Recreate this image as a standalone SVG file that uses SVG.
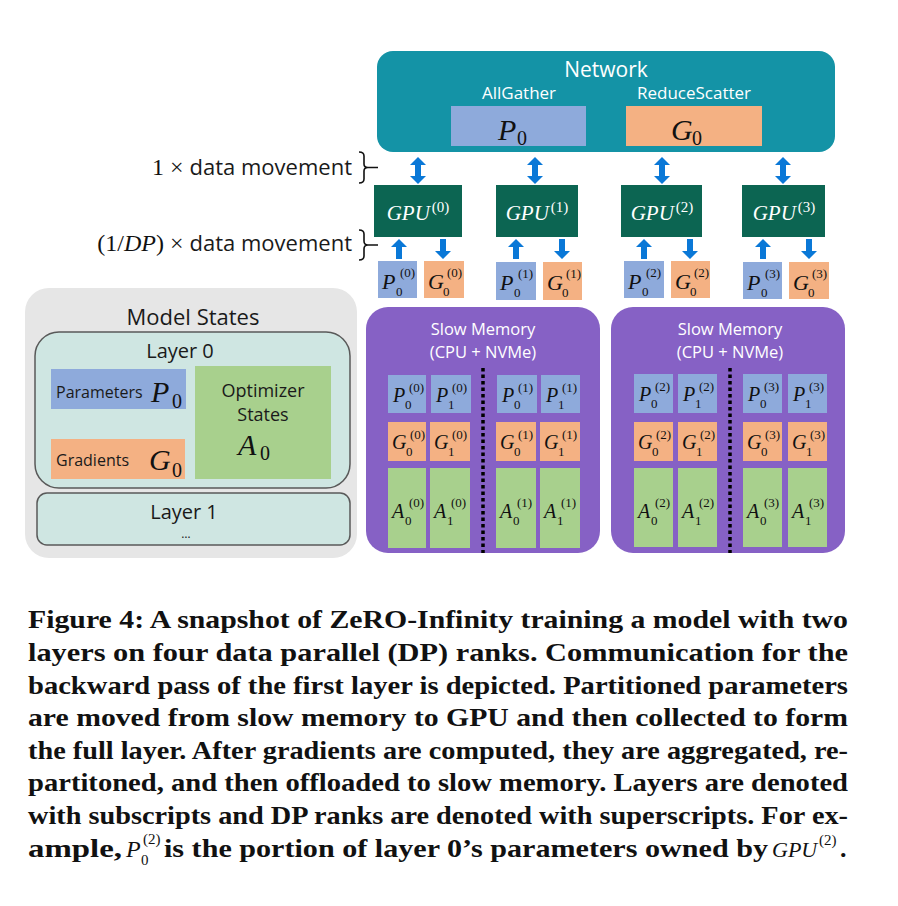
<svg xmlns="http://www.w3.org/2000/svg" xmlns:xlink="http://www.w3.org/1999/xlink" width="898" height="906" viewBox="0 0 898 906">
<style>
.sans{font-family:"Open Sans","Noto Sans","DejaVu Sans",sans-serif;fill:#1a1a1a}
.wt{fill:#ffffff}
.mi{font-family:"Liberation Serif","DejaVu Serif",serif;font-style:italic;fill:#111}
.mu{font-family:"Liberation Serif","DejaVu Serif",serif;fill:#111}
.cap{font-family:"Liberation Serif","DejaVu Serif",serif;font-weight:bold;font-size:26px;fill:#111}
.pb{fill:#8eaadb}
.gb{fill:#f4b183}
.ab{fill:#a8d08d}
.arr{fill:#0a78d7}
.brace{fill:none;stroke:#111;stroke-width:1.6}
.dots{stroke:#000;stroke-width:3.5;stroke-dasharray:3.5 3}
.cl{font-size:20px}
.cs{font-size:13px}
.gpu{font-family:"Liberation Serif","DejaVu Serif",serif;font-style:italic;font-size:21px;fill:#fff}
</style>
<defs>
<path id="dbl" d="M0,0 L8,8 L3,8 L3,19 L8,19 L0,27 L-8,19 L-3,19 L-3,8 L-8,8 Z"/>
<path id="up" d="M0,0 L8,8 L3,8 L3,20 L-3,20 L-3,8 L-8,8 Z"/>
<path id="dn" d="M0,20 L8,12 L3,12 L3,0 L-3,0 L-3,12 L-8,12 Z"/>
</defs>
<rect width="898" height="906" fill="#ffffff"/>

<g id="network">
<rect x="377" y="51" width="458" height="101" rx="16" fill="#1493a6"/>
<text class="sans wt" x="606" y="77" font-size="21" text-anchor="middle">Network</text>
<text class="sans wt" x="519" y="99" font-size="17" text-anchor="middle">AllGather</text>
<text class="sans wt" x="694" y="99" font-size="17" text-anchor="middle">ReduceScatter</text>
<rect class="pb" x="451" y="106" width="135" height="40"/>
<rect class="gb" x="626" y="106" width="136" height="40"/>
<text class="mi" x="498" y="140" font-size="30">P</text>
<text class="mu" x="517" y="145" font-size="20">0</text>
<text class="mi" x="671" y="140" font-size="30">G</text>
<text class="mu" x="692" y="145" font-size="20">0</text>
</g>

<g id="labels">
<text class="sans" x="352" y="175" font-size="22" text-anchor="end"><tspan class="mu" font-size="24">1 × </tspan>data movement</text>
<path class="brace" d="M359,152 Q364,152 364,156 L364,164 Q364,167.5 368,167.5 Q364,167.5 364,171 L364,179 Q364,183 359,183 M368,167.5 H378"/>
<text class="sans" x="352" y="251" font-size="22" text-anchor="end"><tspan class="mu" font-size="24">(1/</tspan><tspan class="mi" font-size="24">DP</tspan><tspan class="mu" font-size="24">) × </tspan>data movement</text>
<path class="brace" d="M359,230 Q364,230 364,234 L364,241 Q364,245 368,245 Q364,245 364,249 L364,256 Q364,260 359,260 M368,245 H378"/>
</g>

<g id="gpu0">
<rect x="374" y="185" width="88" height="52" fill="#0c6552"/>
<text class="gpu" x="418" y="220" text-anchor="middle">GPU<tspan dx="2" dy="-8" font-size="15" font-style="normal">(0)</tspan></text>
</g>
<g id="gpu1">
<rect x="496" y="185" width="82" height="52" fill="#0c6552"/>
<text class="gpu" x="537" y="220" text-anchor="middle">GPU<tspan dx="2" dy="-8" font-size="15" font-style="normal">(1)</tspan></text>
</g>
<g id="gpu2">
<rect x="621" y="185" width="81" height="52" fill="#0c6552"/>
<text class="gpu" x="662" y="220" text-anchor="middle">GPU<tspan dx="2" dy="-8" font-size="15" font-style="normal">(2)</tspan></text>
</g>
<g id="gpu3">
<rect x="742" y="185" width="83" height="52" fill="#0c6552"/>
<text class="gpu" x="784" y="220" text-anchor="middle">GPU<tspan dx="2" dy="-8" font-size="15" font-style="normal">(3)</tspan></text>
</g>

<g id="connectors">
<use xlink:href="#dbl" href="#dbl" class="arr" x="418" y="157"/>
<use xlink:href="#dbl" href="#dbl" class="arr" x="535" y="157"/>
<use xlink:href="#dbl" href="#dbl" class="arr" x="662" y="157"/>
<use xlink:href="#dbl" href="#dbl" class="arr" x="783" y="157"/>
<use xlink:href="#up" href="#up" class="arr" x="399" y="239"/>
<use xlink:href="#dn" href="#dn" class="arr" x="443" y="239"/>
<use xlink:href="#up" href="#up" class="arr" x="516" y="239"/>
<use xlink:href="#dn" href="#dn" class="arr" x="562" y="239"/>
<use xlink:href="#up" href="#up" class="arr" x="644" y="239"/>
<use xlink:href="#dn" href="#dn" class="arr" x="690" y="239"/>
<use xlink:href="#up" href="#up" class="arr" x="763" y="239"/>
<use xlink:href="#dn" href="#dn" class="arr" x="809" y="239"/>
</g>

<g id="gpu-shards">
<g transform="translate(378,261)"><rect class="pb" width="39" height="37"/><text class="mi" x="4" y="28" font-size="22">P</text><text class="mu cs" x="18" y="35">0</text><text class="mu cs" x="22" y="16">(0)</text></g>
<g transform="translate(424,261)"><rect class="gb" width="40" height="37"/><text class="mi" x="4" y="28" font-size="22">G</text><text class="mu cs" x="19" y="35">0</text><text class="mu cs" x="23" y="16">(0)</text></g>
<g transform="translate(496,262)"><rect class="pb" width="40" height="38"/><text class="mi" x="4" y="28" font-size="22">P</text><text class="mu cs" x="18" y="35">0</text><text class="mu cs" x="22" y="16">(1)</text></g>
<g transform="translate(543,262)"><rect class="gb" width="39" height="38"/><text class="mi" x="4" y="28" font-size="22">G</text><text class="mu cs" x="19" y="35">0</text><text class="mu cs" x="23" y="16">(1)</text></g>
<g transform="translate(624,261)"><rect class="pb" width="40" height="37"/><text class="mi" x="4" y="28" font-size="22">P</text><text class="mu cs" x="18" y="35">0</text><text class="mu cs" x="22" y="16">(2)</text></g>
<g transform="translate(671,261)"><rect class="gb" width="39" height="37"/><text class="mi" x="4" y="28" font-size="22">G</text><text class="mu cs" x="19" y="35">0</text><text class="mu cs" x="23" y="16">(2)</text></g>
<g transform="translate(743,262)"><rect class="pb" width="39" height="37"/><text class="mi" x="4" y="28" font-size="22">P</text><text class="mu cs" x="18" y="35">0</text><text class="mu cs" x="22" y="16">(3)</text></g>
<g transform="translate(789,262)"><rect class="gb" width="40" height="37"/><text class="mi" x="4" y="28" font-size="22">G</text><text class="mu cs" x="19" y="35">0</text><text class="mu cs" x="23" y="16">(3)</text></g>
</g>

<g id="model-states">
<rect x="25" y="288" width="332" height="270" rx="24" fill="#e6e6e6"/>
<text class="sans" x="193" y="325" font-size="22" text-anchor="middle">Model States</text>
<g id="layer0">
<rect x="35" y="332" width="315" height="156" rx="24" fill="#cfe6e2" stroke="#595959" stroke-width="1.5"/>
<text class="sans" x="180" y="358" font-size="20" text-anchor="middle">Layer 0</text>
<rect class="pb" x="51" y="369" width="135" height="40"/>
<text class="sans" x="56" y="398" font-size="16">Parameters</text>
<text class="mi" x="151" y="402" font-size="30">P</text>
<text class="mu" x="172" y="408" font-size="20">0</text>
<rect class="gb" x="51" y="439" width="134" height="40"/>
<text class="sans" x="56" y="466" font-size="16">Gradients</text>
<text class="mi" x="149" y="470" font-size="30">G</text>
<text class="mu" x="172" y="477" font-size="20">0</text>
<rect class="ab" x="195" y="366" width="136" height="113"/>
<text class="sans" x="263" y="397" font-size="18" text-anchor="middle">Optimizer</text>
<text class="sans" x="263" y="421" font-size="18" text-anchor="middle">States</text>
<text class="mi" x="238" y="455" font-size="30">A</text>
<text class="mu" x="260" y="460" font-size="20">0</text>
</g>
<g id="layer1">
<rect x="37" y="493" width="313" height="52" rx="10" fill="#cfe6e2" stroke="#595959" stroke-width="1.5"/>
<text class="sans" x="184" y="519" font-size="20" text-anchor="middle">Layer 1</text>
<text class="sans" x="186" y="538" font-size="12" text-anchor="middle">…</text>
</g>
</g>

<g id="slow-memory-0">
<rect x="366" y="307" width="234" height="246" rx="22" fill="#8661c5"/>
<text class="sans wt" x="483" y="335" font-size="16.5" text-anchor="middle">Slow Memory</text>
<text class="sans wt" x="483" y="358" font-size="16.5" text-anchor="middle">(CPU + NVMe)</text>
<line class="dots" x1="483" y1="368" x2="483" y2="553"/>
<g transform="translate(388,375)"><rect class="pb" width="38" height="38"/><text class="mi cl" x="5" y="27">P</text><text class="mu cs" x="17" y="34">0</text><text class="mu cs" x="21" y="17">(0)</text></g>
<g transform="translate(431,375)"><rect class="pb" width="40" height="38"/><text class="mi cl" x="5" y="27">P</text><text class="mu cs" x="17" y="34">1</text><text class="mu cs" x="21" y="17">(0)</text></g>
<g transform="translate(497,375)"><rect class="pb" width="40" height="38"/><text class="mi cl" x="5" y="27">P</text><text class="mu cs" x="17" y="34">0</text><text class="mu cs" x="21" y="17">(1)</text></g>
<g transform="translate(541,375)"><rect class="pb" width="39" height="38"/><text class="mi cl" x="5" y="27">P</text><text class="mu cs" x="17" y="34">1</text><text class="mu cs" x="21" y="17">(1)</text></g>
<g transform="translate(388,422)"><rect class="gb" width="38" height="39"/><text class="mi cl" x="4" y="27">G</text><text class="mu cs" x="18" y="34">0</text><text class="mu cs" x="22" y="17">(0)</text></g>
<g transform="translate(430,422)"><rect class="gb" width="40" height="39"/><text class="mi cl" x="4" y="27">G</text><text class="mu cs" x="18" y="34">1</text><text class="mu cs" x="22" y="17">(0)</text></g>
<g transform="translate(496,422)"><rect class="gb" width="40" height="39"/><text class="mi cl" x="4" y="27">G</text><text class="mu cs" x="18" y="34">0</text><text class="mu cs" x="22" y="17">(1)</text></g>
<g transform="translate(540,422)"><rect class="gb" width="40" height="39"/><text class="mi cl" x="4" y="27">G</text><text class="mu cs" x="18" y="34">1</text><text class="mu cs" x="22" y="17">(1)</text></g>
<g transform="translate(388,468)"><rect class="ab" width="38" height="80"/><text class="mi cl" x="4" y="50">A</text><text class="mu cs" x="17" y="57">0</text><text class="mu cs" x="21" y="39">(0)</text></g>
<g transform="translate(430,468)"><rect class="ab" width="40" height="80"/><text class="mi cl" x="4" y="50">A</text><text class="mu cs" x="17" y="57">1</text><text class="mu cs" x="21" y="39">(0)</text></g>
<g transform="translate(496,468)"><rect class="ab" width="40" height="80"/><text class="mi cl" x="4" y="50">A</text><text class="mu cs" x="17" y="57">0</text><text class="mu cs" x="21" y="39">(1)</text></g>
<g transform="translate(540,468)"><rect class="ab" width="40" height="80"/><text class="mi cl" x="4" y="50">A</text><text class="mu cs" x="17" y="57">1</text><text class="mu cs" x="21" y="39">(1)</text></g>
</g>

<g id="slow-memory-1">
<rect x="611" y="307" width="234" height="246" rx="22" fill="#8661c5"/>
<text class="sans wt" x="730" y="335" font-size="16.5" text-anchor="middle">Slow Memory</text>
<text class="sans wt" x="730" y="358" font-size="16.5" text-anchor="middle">(CPU + NVMe)</text>
<line class="dots" x1="730" y1="368" x2="730" y2="553"/>
<g transform="translate(634,374)"><rect class="pb" width="39" height="39"/><text class="mi cl" x="5" y="27">P</text><text class="mu cs" x="17" y="34">0</text><text class="mu cs" x="21" y="17">(2)</text></g>
<g transform="translate(678,374)"><rect class="pb" width="39" height="39"/><text class="mi cl" x="5" y="27">P</text><text class="mu cs" x="17" y="34">1</text><text class="mu cs" x="21" y="17">(2)</text></g>
<g transform="translate(743,374)"><rect class="pb" width="39" height="39"/><text class="mi cl" x="5" y="27">P</text><text class="mu cs" x="17" y="34">0</text><text class="mu cs" x="21" y="17">(3)</text></g>
<g transform="translate(788,374)"><rect class="pb" width="39" height="39"/><text class="mi cl" x="5" y="27">P</text><text class="mu cs" x="17" y="34">1</text><text class="mu cs" x="21" y="17">(3)</text></g>
<g transform="translate(634,422)"><rect class="gb" width="39" height="39"/><text class="mi cl" x="4" y="27">G</text><text class="mu cs" x="18" y="34">0</text><text class="mu cs" x="22" y="17">(2)</text></g>
<g transform="translate(678,422)"><rect class="gb" width="39" height="39"/><text class="mi cl" x="4" y="27">G</text><text class="mu cs" x="18" y="34">1</text><text class="mu cs" x="22" y="17">(2)</text></g>
<g transform="translate(743,422)"><rect class="gb" width="39" height="39"/><text class="mi cl" x="4" y="27">G</text><text class="mu cs" x="18" y="34">0</text><text class="mu cs" x="22" y="17">(3)</text></g>
<g transform="translate(788,422)"><rect class="gb" width="39" height="39"/><text class="mi cl" x="4" y="27">G</text><text class="mu cs" x="18" y="34">1</text><text class="mu cs" x="22" y="17">(3)</text></g>
<g transform="translate(634,468)"><rect class="ab" width="39" height="79"/><text class="mi cl" x="4" y="50">A</text><text class="mu cs" x="17" y="57">0</text><text class="mu cs" x="21" y="39">(2)</text></g>
<g transform="translate(678,468)"><rect class="ab" width="39" height="79"/><text class="mi cl" x="4" y="50">A</text><text class="mu cs" x="17" y="57">1</text><text class="mu cs" x="21" y="39">(2)</text></g>
<g transform="translate(743,468)"><rect class="ab" width="39" height="79"/><text class="mi cl" x="4" y="50">A</text><text class="mu cs" x="17" y="57">0</text><text class="mu cs" x="21" y="39">(3)</text></g>
<g transform="translate(788,468)"><rect class="ab" width="39" height="79"/><text class="mi cl" x="4" y="50">A</text><text class="mu cs" x="17" y="57">1</text><text class="mu cs" x="21" y="39">(3)</text></g>
</g>

<g id="caption">
<text class="cap" x="28" y="628" textLength="820" lengthAdjust="spacingAndGlyphs">Figure 4: A snapshot of ZeRO-Infinity training a model with two</text>
<text class="cap" x="28" y="661" textLength="820" lengthAdjust="spacingAndGlyphs">layers on four data parallel (DP) ranks. Communication for the</text>
<text class="cap" x="28" y="694" textLength="820" lengthAdjust="spacingAndGlyphs">backward pass of the first layer is depicted. Partitioned parameters</text>
<text class="cap" x="28" y="726" textLength="820" lengthAdjust="spacingAndGlyphs">are moved from slow memory to GPU and then collected to form</text>
<text class="cap" x="28" y="759" textLength="820" lengthAdjust="spacingAndGlyphs">the full layer. After gradients are computed, they are aggregated, re-</text>
<text class="cap" x="28" y="791" textLength="820" lengthAdjust="spacingAndGlyphs">partitoned, and then offloaded to slow memory. Layers are denoted</text>
<text class="cap" x="28" y="824" textLength="820" lengthAdjust="spacingAndGlyphs">with subscripts and DP ranks are denoted with superscripts. For ex-</text>
<text class="cap" x="28" y="857" textLength="94" lengthAdjust="spacingAndGlyphs">ample,</text>
<text class="mi" x="126" y="857" font-size="24">P</text>
<text class="mu" x="141" y="865" font-size="15">0</text>
<text class="mu" x="143" y="844" font-size="15">(2)</text>
<text class="cap" x="164" y="857" textLength="604" lengthAdjust="spacingAndGlyphs">is the portion of layer 0’s parameters owned by</text>
<text class="mi" x="772" y="857" font-size="22">GPU</text>
<text class="mu" x="819" y="845" font-size="15">(2)</text>
<text class="cap" x="840" y="857">.</text>
</g>
</svg>
